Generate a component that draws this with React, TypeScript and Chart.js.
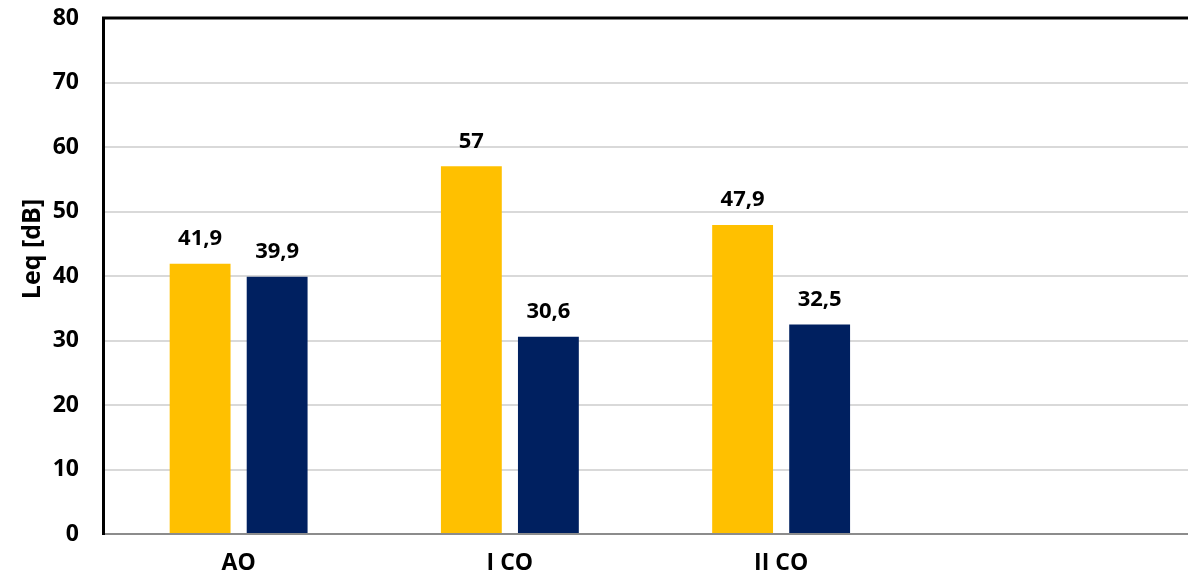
import React, { useEffect, useRef } from "react";
import { Chart, registerables } from "chart.js";

Chart.register(...registerables);

const categories = ["AO", "I CO", "II CO", ""];
const seriesA = [41.9, 57, 47.9, null];
const seriesB = [39.9, 30.6, 32.5, null];
const yTicks = [0, 10, 20, 30, 40, 50, 60, 70, 80];
const yTitle = "Leq [dB]";

const FONT = "'Open Sans', 'DejaVu Sans', sans-serif";

const labelPlugin = {
  id: "barLabels",
  afterDatasetsDraw(chart: any) {
    const ctx = chart.ctx;
    ctx.save();
    ctx.font = `bold 22px ${FONT}`;
    ctx.fillStyle = "#000";
    ctx.textAlign = "center";
    ctx.textBaseline = "middle";
    chart.data.datasets.forEach((ds: any, i: number) => {
      const meta = chart.getDatasetMeta(i);
      meta.data.forEach((el: any, j: number) => {
        const v = ds.data[j];
        if (v === null || v === undefined) return;
        ctx.fillText(String(v).replace(".", ","), el.x, el.y - 25);
      });
    });
    ctx.restore();
  },
  afterDraw(chart: any) {
    const { ctx, chartArea } = chart;
    ctx.save();
    ctx.strokeStyle = "#000";
    ctx.lineWidth = 3;
    ctx.beginPath();
    ctx.moveTo(chartArea.left - 1, chartArea.top);
    ctx.lineTo(chartArea.right, chartArea.top);
    ctx.stroke();
    // y axis title
    ctx.translate(33, 249);
    ctx.rotate(-Math.PI / 2);
    ctx.font = `bold 25px ${FONT}`;
    ctx.fillStyle = "#000";
    ctx.textAlign = "center";
    ctx.textBaseline = "middle";
    ctx.fillText(yTitle, 0, 0);
    ctx.restore();
  },
};

export default function App() {
  const ref = useRef<HTMLCanvasElement>(null);
  useEffect(() => {
    document.body.style.margin = "0";
    const chart = new Chart(ref.current!, {
      type: "bar",
      data: {
        labels: categories,
        datasets: [
          {
            label: "A",
            data: seriesA,
            backgroundColor: "#FFC000",
            categoryPercentage: 0.568,
            barPercentage: 0.79,
          },
          {
            label: "B",
            data: seriesB,
            backgroundColor: "#002060",
            categoryPercentage: 0.568,
            barPercentage: 0.79,
          },
        ],
      },
      options: {
        responsive: false,
        animation: false,
        layout: { padding: { top: 18, left: 0, right: 0, bottom: 0 } },
        plugins: { legend: { display: false }, tooltip: { enabled: false } },
        scales: {
          x: {
            grid: { display: false, drawTicks: false },
            border: { color: "#8c8c8c", width: 2 },
            ticks: {
              color: "#000",
              padding: 16,
              font: { family: FONT, size: 23, weight: "bold" },
            },
            afterFit: (s: any) => {
              s.height = 44;
              s.paddingLeft = 0;
              s.paddingRight = 0;
            },
          },
          y: {
            min: 0,
            max: 80,
            afterBuildTicks: (s: any) => {
              s.ticks = yTicks.map((v) => ({ value: v }));
            },
            grid: { color: "#d9d9d9", lineWidth: 2, drawTicks: false },
            border: { color: "#000", width: 3 },
            ticks: {
              color: "#000",
              padding: 24,
              font: { family: FONT, size: 23, weight: "bold" },
            },
            afterFit: (s: any) => {
              s.width = 103;
              s.paddingTop = 0;
              s.paddingBottom = 0;
            },
          },
        },
      },
      plugins: [labelPlugin],
    });
    return () => chart.destroy();
  }, []);
  return (
    <div style={{ width: 1188, height: 578, background: "#fff" }}>
      <canvas ref={ref} width={1188} height={578} />
    </div>
  );
}
